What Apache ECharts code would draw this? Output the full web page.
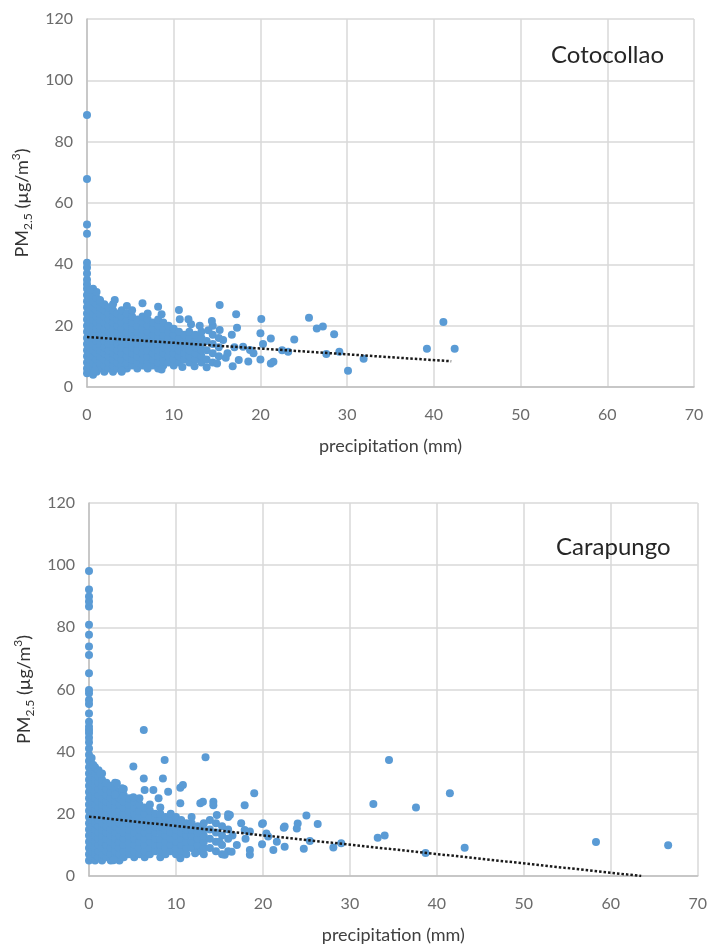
<!DOCTYPE html>
<html>
<head>
<meta charset="utf-8">
<script src="https://cdn.jsdelivr.net/npm/echarts@6/dist/echarts.min.js"></script>
<style>
  html, body { margin: 0; padding: 0; background: #fff; }
  #chart { width: 710px; height: 952px; }
</style>
</head>
<body>
<div id="chart"></div>
<script>
// x ticks and y ticks
const xTicks = [0, 10, 20, 30, 40, 50, 60, 70];
const yTicks = [0, 20, 40, 60, 80, 100, 120];
const stationNames = ['Cotocollao', 'Carapungo'];

// Cotocollao: dense cloud, read column by column [precip, [pm2.5 ...]]
const cotoCols = [
  [0, [4.5, 6, 8, 10, 12, 14, 16, 18, 20, 22, 24, 26, 28, 30, 32, 33.5, 35, 37, 39, 40.5]],
  [0.3, [5, 7, 9, 11, 13, 15, 17, 19, 21, 23, 25, 27, 29, 31]],
  [0.7, [4, 6, 8, 10, 12, 14, 16, 18, 20, 22, 24, 26, 28, 30, 32]],
  [1.1, [5, 7, 9, 11, 13, 15, 17, 19, 21, 23, 25, 27, 29, 31]],
  [1.5, [6, 8, 10, 12, 14, 16, 18, 20, 22, 24, 26, 28]],
  [2.0, [5, 7, 9, 11, 13, 15, 17, 19, 21, 23, 25, 27]],
  [2.5, [6, 8, 10, 12, 14, 16, 18, 20, 22, 24, 26]],
  [3.0, [5, 7, 9, 11, 13, 15, 17, 19, 21, 23, 25, 27]],
  [3.5, [6, 8, 10, 12, 14, 16, 18, 20, 22, 24]],
  [4.0, [5, 7, 9, 11, 13, 15, 17, 19, 21, 23, 25]],
  [4.6, [6, 8, 10, 12, 14, 16, 18, 20, 22, 24]],
  [5.2, [7, 9, 11, 13, 15, 17, 19, 21, 23, 25]],
  [5.8, [6, 8, 10, 12, 14, 16, 18, 20, 22]],
  [6.4, [7, 9, 11, 13, 15, 17, 19, 21, 23]],
  [7.0, [6, 8, 10, 12, 14, 16, 18, 20, 22, 24]],
  [7.6, [7, 9, 11, 13, 15, 17, 19, 21]],
  [8.2, [6, 8, 10, 12, 14, 16, 18, 20, 22]],
  [8.8, [7, 9, 11, 13, 15, 17, 19, 21]],
  [9.4, [8, 10, 12, 14, 16, 18, 20]],
  [10.0, [7, 9, 11, 13, 15, 17, 19]],
  [10.6, [8, 10, 12, 14, 16, 18]],
  [11.2, [9, 11, 13, 15, 17]],
  [11.8, [8, 10, 12, 14, 16, 18]],
  [12.5, [9, 11, 13, 15, 17]],
  [13.2, [8, 10, 12, 14, 16, 18]],
  [13.8, [9, 12, 15]],
  [14.5, [8, 11, 14, 17, 20]],
  [15.2, [10, 13, 16]]
];
// Cotocollao: scattered points
const cotoScatter = [
  [0, 50], [0, 53], [0, 67.8], [0, 88.7], [0.35, 31.6], [1.5, 28.4], [3.2, 28.4], [4.6, 26.4],
  [6.4, 27.3], [8.2, 26.2], [8.6, 23.7], [10.6, 25.1], [10.7, 22.1], [11.7, 22.1], [0.9, 5.3],
  [4, 5.3], [8.6, 5.7], [6.9, 6.6], [13.8, 6.4], [15, 7.7], [16.8, 6.8], [17.5, 8.8], [14.4, 21.5],
  [15.3, 18.6], [16.7, 17], [15.7, 15.3], [18, 13.1], [18.8, 12.1], [15.3, 26.7], [17.2, 23.7],
  [17.3, 19.3], [20.1, 22.2], [20, 17.5], [21.2, 15.8], [20.3, 14], [21.5, 8.2], [21.2, 7.7],
  [20, 9], [23.9, 15.5], [25.6, 22.6], [26.5, 19.1], [27.2, 19.7], [28.5, 17.2], [23.2, 11.5],
  [27.6, 10.8], [29.1, 11.5], [30.1, 5.3], [31.9, 9.2], [39.2, 12.5], [41.1, 21.2], [42.4, 12.5],
  [18.6, 8.3], [16.2, 11], [17, 13], [16, 9.5], [19.2, 11], [22.5, 12], [12.4, 6.8], [11, 6.5],
  [14, 18.5], [13, 20], [12, 20.5]
];
const cotoTrend = [[0, 16.3], [42, 8.4]];

// Carapungo: dense cloud
const caraCols = [
  [0, [5, 7, 9, 11, 13, 15, 17, 19, 21, 23, 25, 27, 29, 31, 33, 35, 37, 39, 41, 43]],
  [0.3, [6, 8, 10, 12, 14, 16, 18, 20, 22, 24, 26, 28, 30, 32, 34, 36, 38]],
  [0.7, [5, 7, 9, 11, 13, 15, 17, 19, 21, 23, 25, 27, 29, 31, 33, 35]],
  [1.1, [6, 8, 10, 12, 14, 16, 18, 20, 22, 24, 26, 28, 30, 32, 34]],
  [1.5, [5, 7, 9, 11, 13, 15, 17, 19, 21, 23, 25, 27, 29, 31, 33]],
  [2.0, [6, 8, 10, 12, 14, 16, 18, 20, 22, 24, 26, 28, 30]],
  [2.5, [5, 7, 9, 11, 13, 15, 17, 19, 21, 23, 25, 27, 29]],
  [3.0, [6, 8, 10, 12, 14, 16, 18, 20, 22, 24, 26, 28, 30]],
  [3.5, [5, 7, 9, 11, 13, 15, 17, 19, 21, 23, 25, 27]],
  [4.0, [6, 8, 10, 12, 14, 16, 18, 20, 22, 24, 26, 28]],
  [4.6, [7, 9, 11, 13, 15, 17, 19, 21, 23, 25]],
  [5.2, [6, 8, 10, 12, 14, 16, 18, 20, 22, 24]],
  [5.8, [7, 9, 11, 13, 15, 17, 19, 21, 23, 25]],
  [6.4, [6, 8, 10, 12, 14, 16, 18, 20, 22]],
  [7.0, [7, 9, 11, 13, 15, 17, 19, 21, 23]],
  [7.6, [8, 10, 12, 14, 16, 18, 20]],
  [8.2, [6, 8, 10, 12, 14, 16, 18, 20, 22]],
  [8.8, [7, 9, 11, 13, 15, 17, 19]],
  [9.4, [8, 10, 12, 14, 16, 18, 20]],
  [10.0, [7, 9, 11, 13, 15, 17, 19]],
  [10.6, [8, 10, 12, 14, 16, 18]],
  [11.2, [7, 9, 11, 13, 15, 17]],
  [11.8, [9, 11, 13, 15, 17, 19]],
  [12.5, [8, 10, 12, 14, 16]],
  [13.2, [7, 9, 11, 13, 15, 17]],
  [13.9, [9, 12, 15, 18]],
  [14.6, [8, 11, 14, 17]],
  [15.3, [7, 10, 13, 16]],
  [16.0, [8, 12, 15, 19]]
];
// Carapungo: scattered points
const caraScatter = [
  [0, 44.5], [0, 46], [0, 47], [0, 48], [0, 49.6], [0, 52.3], [0, 55.3], [0, 56.6], [0, 58.8],
  [0, 59.8], [0, 65.2], [0, 71.1], [0, 73.8], [0, 77.6], [0, 80.8], [0, 86.7], [0, 88.3],
  [0, 89.9], [0, 92.2], [0, 98.1],
  [0.5, 35.7], [1.3, 33], [3.2, 29.8], [3.8, 28.2], [3, 26.1], [5.1, 25.3], [5.1, 35.2],
  [6.3, 31.4], [6.3, 47], [6.4, 27.7], [7.4, 27.7], [8, 25], [8.5, 31.4], [8.7, 37.3], [9.1, 27.1],
  [10.5, 28.4], [10.8, 29.3], [10.5, 23.4], [12.8, 23.4], [13.1, 23.9], [13.4, 38.2], [14.3, 23.9],
  [14.3, 22.8], [14.7, 19.6], [16, 19.9], [16.2, 19.6], [17.9, 22.8], [19, 26.6], [17.9, 14.8],
  [18.5, 14.3], [20.4, 13.7], [19.9, 16.7], [20, 17], [20.6, 12.7], [21.6, 11], [22.5, 9.4],
  [19.9, 10.2], [21.2, 8.4], [22.4, 15.5], [22.5, 15.9], [23.9, 15.3], [24, 16.9], [24.7, 8.8],
  [25, 19.5], [25.4, 11.3], [26.3, 16.7], [28.1, 9.2], [29, 10.5], [32.7, 23.2], [33.2, 12.3],
  [34, 13], [34.5, 37.3], [37.6, 22], [38.7, 7.4], [41.5, 26.6], [43.2, 9.1], [58.3, 10.9],
  [66.6, 9.9], [18.5, 8.4], [18.5, 6.8], [15.6, 6.8], [16.4, 7.8], [10.5, 5.7], [12.2, 7.3],
  [2.8, 5.1], [17, 10], [18, 12], [16.5, 13], [15, 11], [17.5, 17]
];
const caraTrend = [[0, 19.1], [63.5, 0]];

const flatCols = (cols) => {
  const out = [];
  cols.forEach(([x, ys]) => ys.forEach((y) => out.push([x, y])));
  return out;
};

const FONT = 'Lato';
const dotColor = '#5a9bd5';
const gridColor = '#d9d9d9';

const makeX = (gridIndex) => ({
  gridIndex,
  type: 'value',
  min: xTicks[0],
  max: xTicks[xTicks.length - 1],
  interval: xTicks[1] - xTicks[0],
  name: 'precipitation (mm)',
  nameLocation: 'middle',
  nameGap: 50,
  nameTextStyle: { fontFamily: FONT, fontSize: 18, color: '#404040' },
  axisLine: { show: true, lineStyle: { color: '#bfbfbf', width: 1.5 } },
  axisTick: { show: false },
  axisLabel: { fontFamily: FONT, fontSize: 16, color: '#6b6b6b', margin: 20 },
  splitLine: { show: true, lineStyle: { color: gridColor, width: 1.5 } }
});

const makeY = (gridIndex) => ({
  gridIndex,
  type: 'value',
  min: yTicks[0],
  max: yTicks[yTicks.length - 1],
  interval: yTicks[1] - yTicks[0],
  name: 'PM{sub|2.5} (µg/m{sup|3})',
  nameLocation: 'middle',
  nameGap: 50,
  nameTextStyle: {
    fontFamily: FONT, fontSize: 18, color: '#333333', lineHeight: 24,
    rich: {
      sub: { fontFamily: FONT, fontSize: 12, color: '#333333', verticalAlign: 'bottom', lineHeight: 24 },
      sup: { fontFamily: FONT, fontSize: 12, color: '#333333', verticalAlign: 'top', lineHeight: 24 }
    }
  },
  axisLine: { show: true, lineStyle: { color: '#bfbfbf', width: 1.5 } },
  axisTick: { show: false },
  axisLabel: { fontFamily: FONT, fontSize: 16, color: '#6b6b6b', margin: 14 },
  splitLine: { show: true, lineStyle: { color: gridColor, width: 1.5 } }
});

const scatter = (idx, data) => ({
  type: 'scatter',
  xAxisIndex: idx,
  yAxisIndex: idx,
  data,
  symbolSize: 8,
  itemStyle: { color: dotColor, opacity: 1 },
  silent: true
});

const trend = (idx, data) => ({
  type: 'line',
  xAxisIndex: idx,
  yAxisIndex: idx,
  data,
  symbol: 'none',
  z: 5,
  lineStyle: { color: '#1a1a1a', width: 2.5, type: [2.5, 2] },
  silent: true
});

const chart = echarts.init(document.getElementById('chart'), null, { renderer: 'canvas' });
chart.setOption({
  animation: false,
  backgroundColor: '#fff',
  title: [
    { text: stationNames[0], left: 546, top: 38,
      textStyle: { fontFamily: FONT, fontSize: 24, fontWeight: 'normal', color: '#262626' } },
    { text: stationNames[1], left: 551, top: 530,
      textStyle: { fontFamily: FONT, fontSize: 24, fontWeight: 'normal', color: '#262626' } }
  ],
  grid: [
    { left: 87, right: 16, top: 19, height: 368 },
    { left: 89, right: 12, top: 503, height: 373 }
  ],
  xAxis: [makeX(0), makeX(1)],
  yAxis: [makeY(0), makeY(1)],
  series: [
    scatter(0, flatCols(cotoCols).concat(cotoScatter)),
    trend(0, cotoTrend),
    scatter(1, flatCols(caraCols).concat(caraScatter)),
    trend(1, caraTrend)
  ]
});
</script>
</body>
</html>
